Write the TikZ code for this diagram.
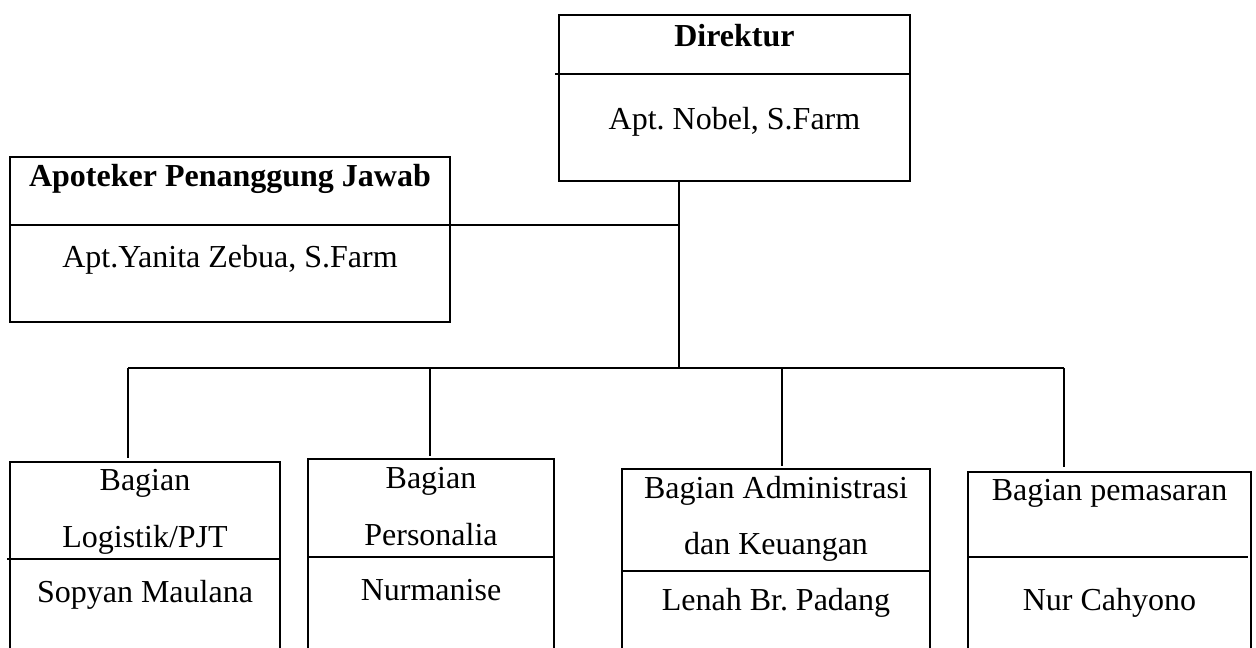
\documentclass[tikz,border=0pt]{standalone}
\usepackage{fontspec}
\setmainfont{Liberation Serif}
\usetikzlibrary{fit}
\frenchspacing
\begin{document}
\begin{tikzpicture}[x=0.75pt,y=-0.75pt,
  box/.style={draw, line width=1.25pt, inner sep=0pt},
  divline/.style={line width=0.95pt},
  conn/.style={line width=0.95pt},
  txt/.style={anchor=base, inner sep=0pt, font=\fontsize{24}{28}\selectfont\frenchspacing},
  btxt/.style={txt, font=\fontsize{24}{28}\selectfont\bfseries\frenchspacing}]
\useasboundingbox (0,0) rectangle (1256,648);
\clip (0,0) rectangle (1256,648);
% boxes
\node[box, fit={(559,15) (910,181)}] (dir) {};
\node[box, fit={(10,157) (450,322)}] (apo) {};
\node[box, fit={(10,462) (280,680)}] (b1) {};
\node[box, fit={(308,459) (554,680)}] (b2) {};
\node[box, fit={(622,469) (930,680)}] (b3) {};
\node[box, fit={(968,472) (1251,680)}] (b4) {};
% dividers
\draw[divline] (555,74) -- (dir.east |- 0,74);
\draw[divline] (apo.west |- 0,225) -- (apo.east |- 0,225);
\draw[divline] (7,559) -- (b1.east |- 0,559);
\draw[divline] (307,557) -- (b2.east |- 0,557);
\draw[divline] (b3.west |- 0,571) -- (b3.east |- 0,571);
\draw[divline] (b4.west |- 0,557) -- (1248,557);
% connectors
\coordinate (dOut) at (679,181);
\coordinate (aJ) at (679,225);
\coordinate (hub) at (679,368);
\coordinate (busL) at (128,368);
\coordinate (t2) at (430,368);
\coordinate (t3) at (782,368);
\coordinate (busR) at (1064,368);
\draw[conn] (apo.east |- aJ) -- (aJ);
\draw[conn] (dOut) -- (hub);
\draw[conn] (busL) -- (busR);
\draw[conn, shorten >=2.5pt] (busL) -- (busL |- b1.north);
\draw[conn, shorten >=2pt] (t2) -- (t2 |- b2.north);
\draw[conn, shorten >=2pt] (t3) -- (t3 |- b3.north);
\draw[conn, shorten >=3pt] (busR) -- (busR |- b4.north);
% texts
\node[btxt] (dirT) at (734.5,47) {Direktur};
\node[txt] (dirN) at (734.5,130) {Apt. Nobel, S.Farm};
\node[btxt] (apoT) at (230,187) {Apoteker Penanggung Jawab};
\node[txt] (apoN) at (230,268) {Apt.Yanita Zebua, S.Farm};
\node[txt] (b1a) at (145,490) {Bagian};
\node[txt] (b1b) at (145,547) {Logistik/PJT};
\node[txt] (b1n) at (145,602) {Sopyan Maulana};
\node[txt] (b2a) at (431,488) {Bagian};
\node[txt] (b2b) at (431,545) {Personalia};
\node[txt] (b2n) at (431,600) {Nurmanise};
\node[txt] (b3a) at (776,498) {Bagian Administrasi};
\node[txt] (b3b) at (776,554) {dan Keuangan};
\node[txt] (b3n) at (776,610) {Lenah Br. Padang};
\node[txt] (b4a) at (1109.5,500) {Bagian pemasaran};
\node[txt] (b4n) at (1109.5,610) {Nur Cahyono};
\end{tikzpicture}
\end{document}
